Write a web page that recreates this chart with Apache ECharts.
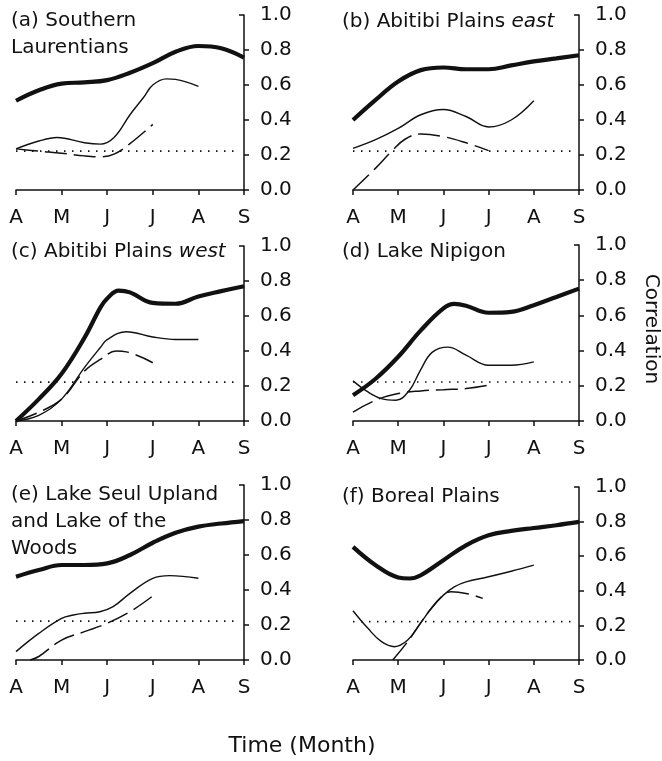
<!DOCTYPE html>
<html>
<head>
<meta charset="utf-8">
<script src="https://cdn.jsdelivr.net/npm/echarts@6/dist/echarts.min.js"></script>
<style>
html,body{margin:0;padding:0;background:#fff;}
#chart{width:662px;height:761px;}
</style>
</head>
<body>
<div id="chart"></div>
<script>
const months = ['A', 'M', 'J', 'J', 'A', 'S'];
const yTicks = [0, 0.2, 0.4, 0.6, 0.8, 1.0];
const threshold = 0.222;
const thresholdEnd = 4.84;

const titles = [
  '(a) Southern\nLaurentians',
  '(b) Abitibi Plains {i|east}',
  '(c) Abitibi Plains {i|west}',
  '(d) Lake Nipigon',
  '(e) Lake Seul Upland\nand Lake of the\nWoods',
  '(f) Boreal Plains'
];

const a_thick = [[0,0.51],[0.5,0.57],[1,0.608],[1.5,0.615],[2,0.628],[2.5,0.67],[3,0.725],[3.5,0.79],[4,0.823],[4.5,0.81],[5,0.757]];
const a_thin  = [[0,0.235],[0.5,0.28],[0.9,0.3],[1.5,0.27],[1.85,0.262],[2.15,0.3],[2.5,0.43],[2.8,0.53],[3,0.6],[3.3,0.635],[3.5,0.632],[4,0.592]];
const a_dash  = [[0,0.235],[0.5,0.222],[1,0.21],[1.5,0.195],[1.85,0.19],[2.15,0.205],[2.5,0.265],[3,0.375]];

const b_thick = [[0,0.40],[0.5,0.515],[1,0.62],[1.5,0.685],[2,0.70],[2.5,0.69],[3,0.69],[3.5,0.712],[4,0.735],[4.5,0.752],[5,0.77]];
const b_thin  = [[0,0.238],[0.5,0.288],[1,0.352],[1.5,0.43],[2,0.46],[2.5,0.42],[3,0.36],[3.5,0.40],[4,0.51]];
const b_dash  = [[0,0],[0.5,0.125],[0.85,0.22],[1.15,0.29],[1.5,0.32],[2,0.305],[2.5,0.27],[3,0.225]];

const c_thick = [[0,0],[0.5,0.125],[1,0.27],[1.5,0.475],[1.85,0.648],[2,0.70],[2.25,0.745],[2.5,0.735],[3,0.675],[3.5,0.67],[4,0.712],[4.5,0.742],[5,0.77]];
const c_thin  = [[0,0],[0.5,0.032],[1,0.125],[1.5,0.305],[1.85,0.42],[2,0.465],[2.42,0.51],[3,0.48],[3.5,0.466],[4,0.466]];
const c_dash  = [[0,0],[0.5,0.05],[1,0.125],[1.5,0.285],[1.85,0.352],[2.2,0.40],[2.42,0.395],[3,0.333]];

const d_thick = [[0,0.146],[0.5,0.24],[1,0.365],[1.5,0.515],[2,0.64],[2.24,0.665],[2.5,0.655],[3,0.615],[3.5,0.62],[4,0.658],[4.5,0.705],[5,0.752]];
const d_thin  = [[0,0.228],[0.33,0.165],[0.63,0.127],[0.95,0.118],[1.25,0.175],[1.49,0.288],[1.75,0.39],[2.1,0.42],[2.5,0.374],[3,0.317],[3.5,0.317],[4,0.336]];
const d_dash  = [[0,0.051],[0.5,0.118],[1,0.156],[1.5,0.171],[2,0.178],[2.5,0.184],[3,0.203]];

const e_thick = [[0,0.476],[0.5,0.514],[1,0.543],[1.5,0.543],[2,0.552],[2.5,0.60],[3,0.67],[3.5,0.727],[4,0.762],[4.5,0.78],[5,0.794]];
const e_thin  = [[0,0.048],[0.5,0.152],[1,0.238],[1.26,0.257],[1.5,0.267],[1.84,0.276],[2.13,0.305],[2.5,0.381],[3,0.467],[3.37,0.482],[4,0.467]];
const e_dash  = [[0.31,0],[0.5,0.02],[1,0.114],[1.5,0.162],[2,0.21],[2.5,0.276],[3,0.366]];

const f_thick = [[0,0.654],[0.5,0.548],[1,0.477],[1.25,0.471],[1.5,0.49],[2,0.577],[2.5,0.663],[3,0.721],[3.5,0.746],[4,0.763],[4.5,0.779],[5,0.798]];
const f_thin  = [[0,0.285],[0.33,0.183],[0.63,0.106],[0.92,0.077],[1.21,0.115],[1.49,0.212],[1.73,0.298],[2,0.375],[2.24,0.423],[2.5,0.452],[3,0.481],[3.5,0.513],[4,0.548]];
const f_dash  = [[0.88,0],[1.21,0.106],[1.49,0.212],[1.73,0.298],[2,0.375],[2.17,0.394],[2.5,0.385],[2.87,0.356]];

const panels = [
  {thick:a_thick, thin:a_thin, dash:a_dash},
  {thick:b_thick, thin:b_thin, dash:b_dash},
  {thick:c_thick, thin:c_thin, dash:c_dash},
  {thick:d_thick, thin:d_thin, dash:d_dash},
  {thick:e_thick, thin:e_thin, dash:e_dash},
  {thick:f_thick, thin:f_thin, dash:f_dash}
];

const FONT = 'DejaVu Sans';
const INK = '#111';

// layout
const gridBoxes = [
  {left:16,  top:15,  width:228, height:175},
  {left:353, top:15,  width:226, height:175},
  {left:16,  top:246, width:228, height:175},
  {left:353, top:245, width:226, height:176},
  {left:16,  top:485, width:228, height:175},
  {left:353, top:487, width:226, height:173}
];
const titlePos = [[11,7],[342,8],[11,238],[342,238],[11,481],[342,483]];

const grids = [], xAxes = [], yAxes = [], series = [], graphics = [];
panels.forEach((p, i) => {
  grids.push(Object.assign({containLabel:false}, gridBoxes[i]));
  xAxes.push({
    gridIndex:i, type:'value', min:0, max:5, interval:1,
    axisLine:{show:true, onZero:false, lineStyle:{color:INK, width:1.5}},
    axisTick:{show:true, length:5, lineStyle:{color:INK, width:1.5}},
    axisLabel:{margin:18, fontSize:20, fontFamily:FONT, color:INK, formatter:v => months[Math.round(v)]},
    splitLine:{show:false}
  });
  yAxes.push({
    gridIndex:i, type:'value', position:'right', min:yTicks[0], max:yTicks[yTicks.length-1], interval:0.2,
    axisLine:{show:true, onZero:false, lineStyle:{color:INK, width:1.5}},
    axisTick:{show:true, length:5, lineStyle:{color:INK, width:1.5}, customValues:yTicks.slice(0, -1)},
    axisLabel:{margin:16, fontSize:20, fontFamily:FONT, color:INK, formatter:v => v.toFixed(1)},
    splitLine:{show:false}
  });
});
// secondary axes placed on the right edge, carrying only the inward tick at 1.0
panels.forEach((p, i) => {
  yAxes.push({
    gridIndex:i, type:'value', position:'left', offset:-gridBoxes[i].width,
    min:yTicks[0], max:yTicks[yTicks.length-1], interval:0.2,
    axisLine:{show:false},
    axisTick:{show:true, inside:false, length:5, lineStyle:{color:INK, width:1.5}, customValues:[yTicks[yTicks.length-1]]},
    axisLabel:{show:false},
    splitLine:{show:false}
  });
});
panels.forEach((p, i) => {
  const base = {type:'line', xAxisIndex:i, yAxisIndex:i, showSymbol:false, symbol:'none', silent:true, animation:false, clip:false};
  series.push(Object.assign({}, base, {data:[[0,threshold],[thresholdEnd,threshold]], lineStyle:{color:INK, width:1.6, type:[1.5,6.5]}}));
  series.push(Object.assign({}, base, {data:p.dash, smooth:0.4, lineStyle:{color:INK, width:1.5, type:[22,7]}}));
  series.push(Object.assign({}, base, {data:p.thin, smooth:0.4, lineStyle:{color:INK, width:1.4}}));
  series.push(Object.assign({}, base, {data:p.thick, smooth:0.4, lineStyle:{color:INK, width:4.2}}));
  graphics.push({
    type:'text', x:titlePos[i][0], y:titlePos[i][1],
    style:{text:titles[i], fontSize:20, fontFamily:FONT, fill:INK, lineHeight:27, verticalAlign:'top',
      rich:{i:{fontStyle:'italic', fontSize:20, fontFamily:FONT, fill:INK, lineHeight:27}}}
  });
});
graphics.push({type:'text', x:651, y:329, rotation:-Math.PI/2,
  style:{text:'Correlation', fontSize:20, fontFamily:FONT, fill:INK, align:'center', verticalAlign:'middle'}});
graphics.push({type:'text', x:302, y:746,
  style:{text:'Time (Month)', fontSize:22, fontFamily:FONT, fill:INK, align:'center', verticalAlign:'middle'}});

const chart = echarts.init(document.getElementById('chart'), null, {renderer:'canvas'});
chart.setOption({
  backgroundColor:'#fff',
  animation:false,
  grid:grids, xAxis:xAxes, yAxis:yAxes, series:series, graphic:graphics
});
</script>
</body>
</html>
